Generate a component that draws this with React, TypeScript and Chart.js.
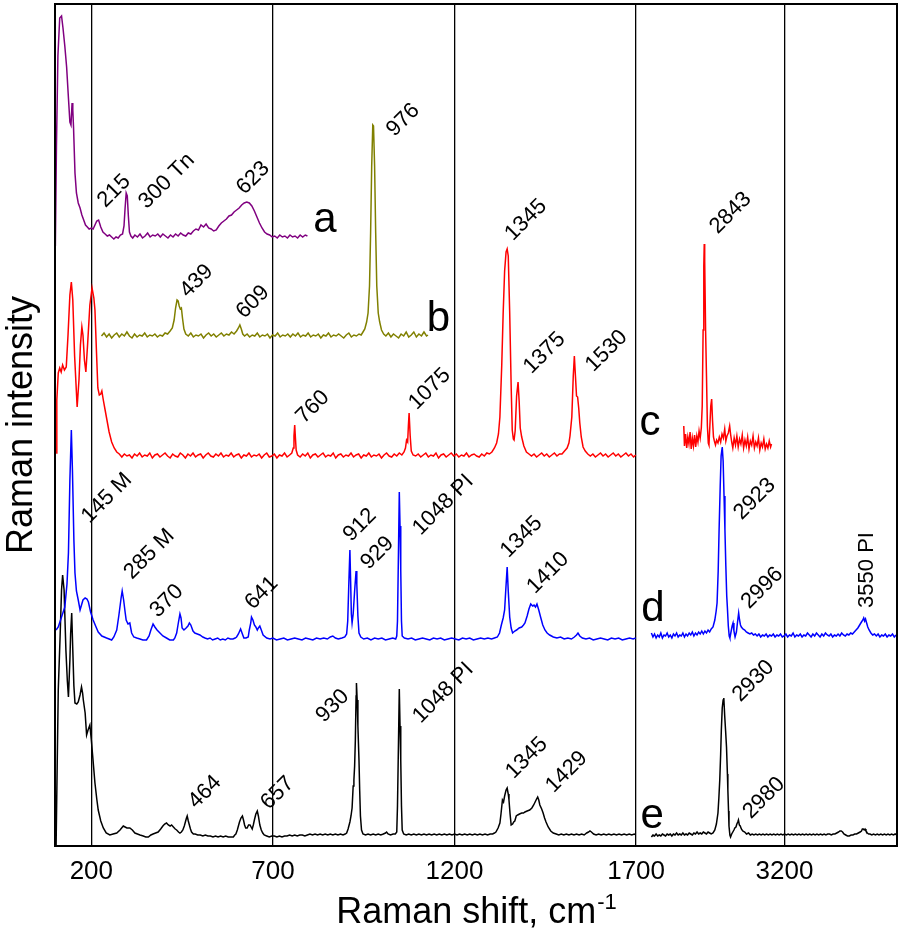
import { useEffect, useRef } from "react";
import { Chart, registerables } from "chart.js";

Chart.register(...registerables);

const FONT = "'Liberation Sans', Arial, Helvetica, sans-serif";

// Broken x axis: 100–1700 cm-1, then 2540–3700 cm-1 (compressed)
const LEFT_MIN = 100;
const LEFT_MAX = 1700;
const RIGHT_MIN = 2540;
const RIGHT_MAX = 3700;
const RIGHT_SCALE = 0.6193;

const tickShifts = [200, 700, 1200, 1700, 3200];

// Spectrum a (purple)
const specA: number[][] = [[101,600],[104,700],[108,790],[113,828],[118,830],[122,818],[127,800],[132,779],[137,748],[141,724],[144,721],[147,743],[149,736],[151,719],[155,673],[159,653],[164,643],[169,638],[174,631],[179,626],[184,621],[189,619],[194,617],[200,618],[205,617],[210,621],[215,625],[220,626],[226,619],[232,614],[238,612],[244,610],[250,611],[256,609],[262,607],[268,609],[274,608],[280,611],[286,612],[290,620],[293,638],[296,653],[299,650],[302,630],[305,614],[309,610],[314,608],[320,611],[327,609],[334,612],[341,608],[348,610],[355,613],[362,609],[369,611],[376,610],[383,612],[390,609],[397,612],[404,610],[411,608],[418,611],[425,609],[432,612],[439,610],[446,613],[453,611],[460,610],[467,613],[474,612],[481,615],[488,617],[495,616],[502,621],[509,619],[516,622],[523,618],[530,617],[537,615],[544,616],[551,620],[558,623],[565,625],[572,627],[579,630],[586,631],[593,634],[600,636],[607,638],[614,641],[621,643],[628,644],[635,643],[642,640],[649,635],[656,629],[663,623],[670,618],[677,614],[684,612],[691,611],[698,609],[705,610],[712,608],[719,611],[726,609],[733,610],[740,608],[747,611],[754,609],[761,610],[768,608],[775,611],[782,609],[789,611],[795,610]];

// Spectrum b (olive)
const specB: number[][] = [[228,510],[235,513],[242,509],[249,512],[256,508],[263,511],[270,513],[277,509],[284,512],[291,510],[298,514],[305,510],[312,508],[319,512],[326,509],[333,511],[340,510],[347,513],[354,509],[361,511],[368,510],[375,512],[382,509],[389,511],[396,510],[403,513],[410,512],[417,515],[423,518],[428,526],[432,538],[436,546],[439,545],[442,540],[445,537],[448,538],[451,528],[455,517],[460,512],[467,510],[474,513],[481,509],[488,511],[495,510],[502,512],[509,508],[516,511],[523,513],[530,510],[537,512],[544,509],[551,511],[558,513],[565,510],[572,512],[579,511],[586,514],[593,512],[600,515],[605,518],[609,521],[613,517],[617,512],[622,510],[629,512],[636,509],[643,511],[650,510],[657,513],[664,509],[671,511],[678,510],[685,512],[692,508],[699,511],[706,510],[713,513],[720,509],[727,511],[734,510],[741,512],[748,509],[755,512],[762,510],[769,513],[776,509],[783,511],[790,510],[797,513],[804,509],[811,511],[818,510],[825,512],[832,508],[839,511],[846,510],[853,513],[860,509],[867,511],[874,510],[881,512],[888,510],[895,508],[902,511],[909,513],[916,509],[923,511],[930,510],[937,512],[943,511],[948,514],[953,517],[958,524],[962,533],[966,560],[969,613],[972,680],[975,721],[977,720],[980,680],[983,613],[986,560],[990,533],[994,524],[999,516],[1005,512],[1011,510],[1018,513],[1025,509],[1032,512],[1039,510],[1046,508],[1053,512],[1060,510],[1067,514],[1074,509],[1081,511],[1088,514],[1095,509],[1102,512],[1109,510],[1116,514],[1123,510],[1127,511]];

// Spectrum c (red), low- and high-wavenumber parts
const specCLow: number[][] = [[103,393],[105,446],[109,473],[113,478],[117,474],[121,481],[126,476],[131,479],[136,512],[141,551],[145,564],[149,546],[154,490],[161,439],[166,466],[170,501],[174,519],[177,511],[181,486],[185,474],[190,503],[196,541],[202,558],[207,548],[210,536],[214,496],[218,458],[222,451],[226,452],[229,455],[233,446],[238,436],[243,426],[249,414],[256,404],[263,398],[270,394],[277,392],[284,389],[291,392],[298,390],[305,391],[312,388],[319,392],[326,390],[333,393],[340,389],[347,391],[354,390],[361,393],[368,388],[375,391],[382,392],[389,389],[396,391],[403,393],[410,390],[417,388],[424,392],[431,390],[438,389],[445,393],[452,391],[459,388],[466,392],[473,390],[480,393],[487,389],[494,391],[501,392],[508,388],[515,391],[522,393],[529,390],[536,389],[543,392],[550,390],[557,393],[564,389],[571,391],[578,390],[585,393],[592,389],[599,391],[606,392],[613,388],[620,391],[627,390],[634,393],[641,389],[648,391],[655,390],[662,392],[669,388],[676,391],[683,393],[690,389],[697,390],[704,392],[711,388],[718,391],[725,390],[732,393],[739,389],[746,391],[752,393],[756,398],[758,410],[760,421],[762,408],[764,396],[768,391],[775,389],[782,392],[789,390],[796,393],[803,388],[810,391],[817,392],[824,389],[831,391],[838,393],[845,389],[852,391],[859,390],[866,393],[873,388],[880,391],[887,392],[894,389],[901,391],[908,390],[915,393],[922,389],[929,391],[936,392],[943,388],[950,391],[957,390],[964,393],[971,389],[978,391],[985,390],[992,392],[999,388],[1006,391],[1013,393],[1020,390],[1027,389],[1034,392],[1041,390],[1048,393],[1055,391],[1061,394],[1065,398],[1068,406],[1071,404],[1073,420],[1075,433],[1078,410],[1081,395],[1086,391],[1093,390],[1100,392],[1107,389],[1114,391],[1121,393],[1128,389],[1135,391],[1142,390],[1149,393],[1156,388],[1163,391],[1170,392],[1177,389],[1184,391],[1191,393],[1198,390],[1205,392],[1212,389],[1219,391],[1226,390],[1233,393],[1240,389],[1247,391],[1254,392],[1261,390],[1268,389],[1275,392],[1282,390],[1289,393],[1296,392],[1303,394],[1310,398],[1316,403],[1321,412],[1325,429],[1330,480],[1334,533],[1338,575],[1342,594],[1345,597],[1348,590],[1352,533],[1356,460],[1359,416],[1362,407],[1364,406],[1367,415],[1371,450],[1375,464],[1378,445],[1381,418],[1385,409],[1391,400],[1398,394],[1405,392],[1412,390],[1419,392],[1426,389],[1433,391],[1440,393],[1447,390],[1454,392],[1461,389],[1468,391],[1475,393],[1482,390],[1489,392],[1496,392],[1503,395],[1510,398],[1515,403],[1518,410],[1523,429],[1527,470],[1530,490],[1533,470],[1536,450],[1539,449],[1542,438],[1545,423],[1549,409],[1554,399],[1560,395],[1567,392],[1574,390],[1581,392],[1588,389],[1595,391],[1602,393],[1609,390],[1616,392],[1623,389],[1630,391],[1637,393],[1644,390],[1651,392],[1658,389],[1665,391],[1672,393],[1679,390],[1686,392],[1693,389],[1699,391]];
const specCHigh: number[][] = [[2752,420],[2755,400],[2760,412],[2765,398],[2770,409],[2775,402],[2780,414],[2785,397],[2790,408],[2795,400],[2800,411],[2805,399],[2810,410],[2815,404],[2820,415],[2825,408],[2830,418],[2834,440],[2838,516],[2841,580],[2843,602],[2845,585],[2849,516],[2853,470],[2857,420],[2861,403],[2864,401],[2868,420],[2872,440],[2876,447],[2880,425],[2884,409],[2888,405],[2893,401],[2898,406],[2904,403],[2910,409],[2916,404],[2922,412],[2928,408],[2934,417],[2939,405],[2944,410],[2950,413],[2956,420],[2960,412],[2965,404],[2970,398],[2976,408],[2982,401],[2988,410],[2994,399],[3000,407],[3006,402],[3012,411],[3018,398],[3024,406],[3030,400],[3036,409],[3042,397],[3048,405],[3054,401],[3060,410],[3066,398],[3072,404],[3078,400],[3084,408],[3090,396],[3096,403],[3102,399],[3108,407],[3114,397],[3120,402],[3126,398],[3132,405],[3138,399],[3142,402]];

// Spectrum d (blue)
const specDLow: number[][] = [[103,216],[109,219],[118,229],[127,239],[133,262],[137,293],[141,366],[145,416],[148,376],[152,306],[155,273],[159,255],[164,246],[169,236],[173,241],[177,246],[183,248],[188,247],[192,244],[198,234],[205,226],[213,219],[219,214],[229,210],[242,208],[256,206],[262,209],[270,216],[276,231],[282,248],[285,255],[289,246],[293,234],[296,226],[301,222],[306,223],[311,213],[317,209],[325,208],[334,207],[342,206],[352,206],[359,210],[364,216],[370,222],[375,219],[381,216],[389,213],[397,210],[407,208],[416,206],[426,206],[430,208],[435,213],[440,224],[444,232],[447,228],[450,218],[455,216],[461,218],[466,220],[470,223],[474,221],[480,215],[485,213],[492,212],[499,211],[507,209],[513,208],[520,207],[527,208],[534,206],[541,207],[548,208],[555,206],[562,207],[569,206],[576,208],[583,207],[590,207],[596,208],[600,209],[605,212],[611,217],[616,212],[620,208],[626,208],[632,209],[635,216],[639,223],[641,229],[645,226],[649,221],[653,219],[657,216],[660,218],[664,220],[668,216],[673,211],[683,208],[692,207],[700,208],[710,206],[720,207],[730,208],[740,206],[750,207],[760,208],[770,207],[780,206],[790,208],[800,207],[810,206],[820,208],[830,207],[840,208],[850,207],[858,209],[865,210],[872,208],[880,207],[890,208],[898,209],[903,212],[906,225],[909,262],[912,296],[914,265],[916,232],[918,223],[921,232],[925,255],[929,275],[931,262],[934,230],[937,213],[942,209],[950,207],[960,208],[970,206],[980,208],[990,207],[1000,208],[1010,206],[1020,207],[1030,208],[1038,207],[1041,210],[1043,225],[1045,276],[1048,354],[1050,320],[1052,276],[1054,225],[1056,210],[1062,208],[1072,207],[1082,208],[1092,206],[1102,207],[1112,208],[1122,207],[1132,206],[1142,208],[1152,207],[1162,208],[1172,206],[1182,207],[1192,208],[1202,207],[1212,206],[1222,208],[1232,207],[1242,208],[1252,206],[1262,207],[1272,208],[1282,207],[1292,208],[1302,207],[1310,208],[1318,209],[1324,213],[1329,221],[1334,228],[1338,236],[1341,255],[1345,279],[1348,255],[1352,229],[1356,218],[1360,213],[1366,215],[1371,216],[1378,218],[1385,219],[1390,221],[1394,223],[1400,230],[1405,237],[1410,242],[1415,240],[1419,241],[1423,239],[1427,242],[1432,236],[1437,229],[1443,221],[1449,216],[1455,213],[1462,211],[1472,209],[1482,208],[1492,209],[1502,207],[1512,208],[1522,207],[1530,209],[1536,211],[1540,213],[1545,210],[1552,208],[1562,207],[1572,208],[1582,206],[1592,207],[1602,208],[1612,207],[1622,206],[1632,208],[1642,207],[1652,208],[1662,206],[1672,207],[1682,208],[1692,207],[1699,208]];
const specDHigh: number[][] = [[2608,213],[2615,209],[2622,212],[2629,208],[2636,211],[2643,209],[2650,213],[2657,208],[2664,211],[2671,210],[2678,213],[2685,209],[2692,211],[2699,208],[2706,212],[2713,210],[2720,213],[2727,209],[2734,211],[2741,210],[2748,213],[2755,209],[2762,212],[2769,210],[2776,213],[2783,211],[2790,214],[2797,210],[2804,213],[2811,211],[2818,214],[2825,212],[2832,215],[2839,212],[2846,215],[2853,213],[2860,216],[2867,214],[2874,217],[2882,219],[2890,226],[2896,235],[2900,243],[2905,275],[2909,316],[2914,360],[2918,390],[2923,399],[2927,385],[2931,350],[2935,316],[2939,280],[2943,250],[2946,238],[2950,220],[2954,210],[2957,208],[2962,214],[2967,220],[2971,223],[2975,215],[2980,209],[2986,214],[2991,224],[2996,233],[3000,226],[3004,221],[3008,219],[3015,217],[3023,216],[3030,214],[3038,213],[3046,212],[3054,213],[3062,211],[3070,212],[3078,210],[3086,212],[3094,209],[3102,211],[3110,210],[3118,212],[3126,209],[3134,211],[3142,210],[3150,212],[3158,209],[3166,211],[3174,210],[3182,212],[3190,209],[3198,210],[3206,212],[3214,209],[3222,211],[3230,210],[3238,213],[3246,209],[3254,211],[3262,210],[3270,212],[3278,209],[3286,211],[3294,210],[3302,213],[3310,211],[3318,209],[3326,212],[3334,210],[3342,213],[3350,211],[3358,209],[3366,212],[3374,210],[3382,213],[3390,211],[3398,210],[3406,212],[3414,209],[3422,211],[3430,210],[3438,212],[3446,210],[3454,213],[3462,211],[3470,210],[3478,212],[3486,211],[3494,213],[3502,212],[3510,214],[3518,216],[3526,218],[3534,221],[3542,224],[3548,226],[3552,228],[3556,225],[3560,227],[3565,223],[3570,219],[3576,216],[3584,213],[3592,211],[3600,212],[3608,210],[3616,212],[3624,209],[3632,211],[3640,210],[3648,212],[3656,209],[3664,211],[3672,210],[3680,212],[3688,209],[3696,211]];

// Spectrum e (black)
const specELow: number[][] = [[103,0],[106,80],[109,156],[114,209],[118,256],[121,271],[125,256],[130,196],[134,165],[137,149],[141,186],[143,212],[146,233],[149,196],[152,160],[155,143],[160,142],[164,144],[169,151],[173,159],[176,153],[178,146],[183,133],[187,111],[191,116],[196,121],[200,106],[204,89],[210,63],[215,47],[219,36],[226,25],[233,18],[241,13],[251,11],[260,12],[270,13],[279,16],[288,20],[293,19],[298,18],[306,18],[313,16],[320,13],[327,12],[334,11],[343,10],[350,9],[357,9],[364,11],[370,12],[377,13],[384,14],[391,17],[397,20],[402,22],[407,23],[412,21],[417,20],[421,21],[426,19],[431,17],[435,16],[440,14],[444,13],[448,14],[452,16],[456,20],[459,24],[462,28],[464,30],[467,25],[470,21],[473,17],[476,14],[481,12],[486,12],[493,11],[500,11],[507,10],[514,11],[521,10],[528,10],[535,9],[542,10],[549,9],[556,10],[563,9],[570,10],[577,9],[584,9],[591,9],[595,11],[598,12],[602,16],[605,20],[608,24],[612,28],[616,30],[619,26],[622,21],[625,18],[629,18],[633,21],[637,21],[640,19],[643,17],[646,21],[649,26],[653,32],[657,35],[660,30],[664,21],[668,16],[672,13],[676,11],[683,10],[690,9],[697,10],[704,10],[711,9],[718,10],[725,9],[732,10],[739,10],[746,11],[753,10],[760,11],[767,10],[774,11],[781,11],[788,10],[795,11],[802,12],[809,11],[816,12],[823,11],[830,12],[837,11],[844,12],[851,11],[858,12],[865,11],[872,12],[879,11],[886,12],[893,11],[899,12],[903,13],[907,17],[912,24],[915,30],[918,38],[921,60],[923,66],[925,80],[927,106],[929,150],[930,163],[932,146],[934,120],[937,86],[939,55],[941,30],[944,16],[948,12],[955,11],[962,12],[969,11],[976,12],[983,11],[990,12],[997,11],[1004,12],[1010,13],[1013,14],[1017,12],[1024,11],[1031,12],[1037,12],[1041,14],[1043,40],[1045,86],[1048,157],[1050,120],[1052,86],[1054,40],[1056,16],[1060,12],[1067,11],[1074,12],[1081,11],[1088,12],[1095,11],[1102,12],[1109,11],[1116,12],[1123,11],[1130,12],[1137,11],[1144,12],[1151,11],[1158,12],[1165,11],[1172,12],[1179,11],[1186,12],[1193,11],[1200,12],[1207,11],[1214,12],[1221,11],[1228,12],[1235,11],[1242,12],[1249,11],[1256,12],[1263,11],[1270,12],[1277,11],[1284,12],[1291,11],[1298,12],[1305,12],[1310,13],[1314,14],[1320,18],[1325,23],[1328,32],[1332,46],[1335,44],[1338,50],[1342,56],[1345,58],[1348,52],[1350,46],[1353,32],[1356,21],[1360,22],[1363,24],[1366,25],[1370,30],[1374,31],[1379,32],[1385,33],[1390,33],[1394,34],[1400,35],[1407,36],[1413,38],[1418,41],[1422,44],[1426,47],[1429,49],[1432,46],[1435,41],[1440,37],[1444,33],[1448,28],[1452,24],[1458,19],[1465,15],[1472,13],[1480,12],[1487,11],[1494,12],[1501,11],[1508,12],[1515,11],[1522,12],[1529,11],[1536,12],[1543,11],[1550,12],[1557,11],[1564,13],[1569,14],[1573,15],[1577,14],[1583,12],[1590,11],[1597,12],[1604,11],[1611,12],[1618,11],[1625,12],[1632,11],[1639,12],[1646,11],[1653,12],[1660,11],[1667,12],[1674,11],[1681,12],[1688,11],[1695,12],[1699,11]];
const specEHigh: number[][] = [[2608,9],[2615,11],[2622,10],[2629,12],[2636,10],[2643,11],[2650,10],[2657,12],[2664,11],[2671,10],[2678,12],[2685,11],[2692,12],[2699,10],[2706,12],[2713,11],[2720,13],[2727,11],[2734,12],[2741,11],[2748,13],[2755,11],[2762,12],[2769,11],[2776,13],[2783,12],[2790,11],[2797,13],[2804,12],[2811,14],[2818,12],[2825,13],[2832,12],[2839,14],[2846,13],[2853,12],[2860,14],[2867,13],[2874,12],[2882,13],[2890,16],[2897,22],[2904,33],[2908,48],[2912,66],[2916,92],[2919,116],[2923,138],[2927,146],[2930,148],[2934,130],[2938,115],[2942,99],[2946,72],[2948,56],[2951,35],[2953,20],[2957,11],[2960,9],[2965,12],[2970,14],[2975,16],[2979,18],[2984,19],[2988,22],[2992,24],[2995,26],[2999,21],[3003,20],[3008,17],[3014,15],[3023,14],[3031,12],[3040,13],[3048,11],[3056,12],[3064,11],[3072,12],[3080,11],[3088,12],[3096,11],[3104,12],[3112,11],[3120,12],[3128,11],[3136,12],[3144,11],[3152,12],[3160,11],[3168,12],[3176,11],[3184,12],[3192,11],[3200,12],[3208,11],[3216,12],[3224,11],[3232,12],[3240,11],[3248,12],[3256,11],[3264,12],[3272,11],[3280,12],[3288,11],[3296,12],[3304,11],[3312,12],[3320,11],[3328,12],[3336,11],[3344,12],[3352,11],[3360,12],[3368,11],[3376,12],[3384,11],[3392,12],[3400,12],[3408,11],[3416,12],[3424,12],[3432,13],[3440,14],[3446,15],[3452,15],[3458,14],[3464,12],[3472,11],[3480,10],[3488,10],[3496,11],[3504,11],[3512,12],[3520,12],[3528,13],[3536,14],[3542,15],[3546,17],[3550,17],[3554,16],[3558,17],[3562,15],[3568,13],[3574,12],[3580,12],[3588,11],[3596,12],[3604,11],[3612,12],[3620,11],[3628,12],[3636,11],[3644,12],[3652,11],[3660,12],[3668,11],[3676,12],[3684,11],[3692,12],[3698,11]];

// Peak annotations: text, Raman shift, intensity, rotation (deg)
const peakLabels: [string, number, number, number][] = [
  ["215", 260, 656, 45], ["300 Tn", 405, 666, 45], ["623", 643, 669, 45],
  ["976", 1056, 727, 45], ["439", 487, 566, 45], ["609", 642, 545, 45],
  ["760", 807, 440, 45], ["1075", 1129, 458, 45], ["1345", 1394, 627, 45],
  ["1375", 1445, 494, 45], ["1530", 1616, 496, 45], ["2843", 2956, 634, 45],
  ["145 M", 240, 349, 45], ["285 M", 357, 293, 45], ["370", 405, 246, 45],
  ["641", 666, 254, 45], ["912", 937, 322, 45], ["929", 985, 294, 45],
  ["1048 PI", 1166, 342, 45], ["1345", 1382, 310, 45], ["1410", 1455, 274, 45],
  ["2923", 3063, 348, 45], ["2996", 3097, 259, 45], ["3550 PI", 3560, 276, 90],
  ["930", 862, 141, 45], ["1048 PI", 1166, 154, 45], ["1345", 1396, 89, 45],
  ["1429", 1506, 75, 45], ["464", 510, 55, 45], ["657", 710, 54, 45],
  ["2930", 3057, 166, 45], ["2980", 3104, 49, 45],
];

const seriesLetters: [string, number, number][] = [
  ["a", 843, 626], ["b", 1156, 531], ["c", 2602, 423], ["d", 2615, 241], ["e", 2611, 30],
];

const toAxis = (v: number) => (v <= LEFT_MAX ? v : LEFT_MAX + (v - RIGHT_MIN) * RIGHT_SCALE);
const fromAxis = (u: number) => (u <= LEFT_MAX ? u : RIGHT_MIN + (u - LEFT_MAX) / RIGHT_SCALE);

function drawCentered(ctx: CanvasRenderingContext2D, text: string, x: number, y: number, angle: number, font: string) {
  ctx.save();
  ctx.translate(x, y);
  ctx.rotate((-angle * Math.PI) / 180);
  ctx.font = font;
  ctx.textAlign = "left";
  ctx.textBaseline = "alphabetic";
  const m = ctx.measureText(text);
  const asc = m.actualBoundingBoxAscent;
  const desc = m.actualBoundingBoxDescent;
  ctx.fillText(text, -m.width / 2, (asc - desc) / 2);
  ctx.restore();
}

const annotPlugin = {
  id: "ramanAnnotations",
  afterDraw(chart: any) {
    const { ctx, chartArea, scales } = chart;
    const xs = scales.x;
    const ys = scales.y;
    ctx.save();
    ctx.strokeStyle = "#000";
    ctx.lineWidth = 2;
    ctx.strokeRect(chartArea.left, chartArea.top, chartArea.right - chartArea.left, chartArea.bottom - chartArea.top);
    ctx.fillStyle = "#000";
    for (const [t, x, y, a] of peakLabels) {
      drawCentered(ctx, t, xs.getPixelForValue(toAxis(x)), ys.getPixelForValue(y), a, `22px ${FONT}`);
    }
    for (const [t, x, y] of seriesLetters) {
      drawCentered(ctx, t, xs.getPixelForValue(toAxis(x)), ys.getPixelForValue(y), 0, `42px ${FONT}`);
    }
    // x-axis title with superscript
    const main = "Raman shift, cm";
    const sup = "-1";
    ctx.textAlign = "left";
    ctx.textBaseline = "alphabetic";
    ctx.font = `36px ${FONT}`;
    const w1 = ctx.measureText(main).width;
    ctx.font = `22px ${FONT}`;
    const w2 = ctx.measureText(sup).width;
    const cx = (chartArea.left + chartArea.right) / 2;
    const x0 = cx - (w1 + w2) / 2;
    const base = 923;
    ctx.font = `36px ${FONT}`;
    ctx.fillText(main, x0, base);
    ctx.font = `22px ${FONT}`;
    ctx.fillText(sup, x0 + w1 + 1, base - 14);
    ctx.restore();
  },
};

export default function App() {
  const ref = useRef<HTMLCanvasElement>(null);
  useEffect(() => {
    const canvas = ref.current;
    if (!canvas) return;
    const mk = (pts: number[][], color: string) => ({
      data: pts.map(([x, y]) => ({ x: toAxis(x), y })),
      borderColor: color,
      backgroundColor: color,
      borderWidth: 1.5,
      pointRadius: 0,
      tension: 0,
      fill: false,
    });
    const chart = new Chart(canvas, {
      type: "line",
      data: {
        datasets: [
          mk(specA, "#800080"),
          mk(specB, "#808000"),
          mk(specCLow, "#ff0000"),
          mk(specCHigh, "#ff0000"),
          mk(specDLow, "#0000ff"),
          mk(specDHigh, "#0000ff"),
          mk(specELow, "#000000"),
          mk(specEHigh, "#000000"),
        ] as any,
      },
      options: {
        animation: false,
        responsive: false,
        devicePixelRatio: 1,
        layout: { padding: { top: 4, right: 3, left: 0, bottom: 0 } },
        plugins: { legend: { display: false }, tooltip: { enabled: false } },
        scales: {
          x: {
            type: "linear",
            min: toAxis(LEFT_MIN),
            max: toAxis(RIGHT_MAX),
            afterBuildTicks: (s: any) => {
              s.ticks = tickShifts.map((v) => ({ value: toAxis(v) }));
            },
            afterFit: (s: any) => {
              s.height = 95;
            },
            ticks: {
              autoSkip: false,
              maxRotation: 0,
              padding: 10,
              color: "#000",
              font: { family: FONT, size: 26 },
              callback: (v: any) => String(Math.round(fromAxis(Number(v)))),
            },
            grid: { color: "#000", lineWidth: 1.3, drawTicks: false },
            border: { display: true, color: "#000", width: 2 },
          },
          y: {
            type: "linear",
            min: 0,
            max: 842,
            afterFit: (s: any) => {
              s.width = 55;
            },
            ticks: { display: false },
            grid: { display: false, drawTicks: false },
            border: { display: true, color: "#000", width: 2 },
            title: {
              display: true,
              text: "Raman intensity",
              color: "#000",
              font: { family: FONT, size: 36 },
              padding: { top: 0, bottom: 0 },
            },
          },
        },
      } as any,
      plugins: [annotPlugin],
    });
    return () => chart.destroy();
  }, []);
  return (
    <div style={{ position: "absolute", left: 0, top: 0, width: 900, height: 941, background: "#fff" }}>
      <canvas ref={ref} width={900} height={941} style={{ display: "block", width: 900, height: 941 }} />
    </div>
  );
}
